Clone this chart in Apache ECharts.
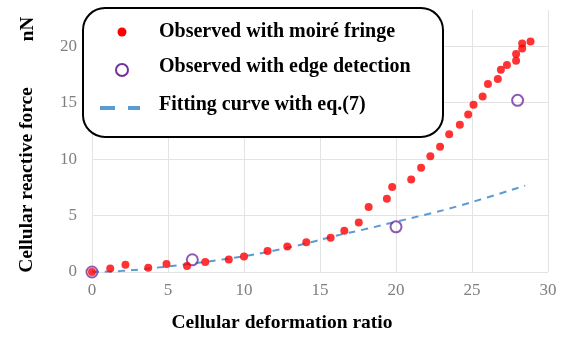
<!doctype html>
<html>
<head>
<meta charset="utf-8">
<script src="https://cdn.jsdelivr.net/npm/echarts@6/dist/echarts.min.js"></script>
<style>html,body{margin:0;padding:0;background:#fff}#main{width:565px;height:338px}</style>
</head>
<body>
<div id="main"></div>
<script>
// moiré fringe observations [ratio, force nN]
var moireX = [0, 1.2, 2.2, 3.7, 4.9, 6.25, 7.45, 9.0, 10.0, 11.55, 12.85, 14.1, 15.7, 16.6, 17.55, 18.2, 19.4, 19.75,
    21.0, 21.65, 22.26, 22.9, 23.5, 24.2, 24.75, 25.1, 25.7, 26.05, 26.7, 26.9, 27.3, 27.9, 27.9, 28.3, 28.3, 28.85];
var moireY = [0, 0.3, 0.65, 0.38, 0.7, 0.53, 0.88, 1.11, 1.37, 1.87, 2.25, 2.63, 3.04, 3.66, 4.39, 5.76, 6.49, 7.52,
    8.19, 9.24, 10.26, 11.08, 12.19, 13.04, 13.95, 14.82, 15.55, 16.64, 17.08, 17.9, 18.33, 18.71, 19.3, 19.8, 20.24, 20.4];
// edge detection observations
var edgeX = [0, 6.6, 20.0, 28.0];
var edgeY = [0, 1.08, 4.0, 15.2];
// fitting curve
var fitX = [0, 2, 4, 6, 8, 10, 12, 14, 16, 18, 20, 22, 24, 26, 28.5];
var fitY = [0, 0.1, 0.35, 0.65, 1.0, 1.4, 1.9, 2.5, 3.2, 3.8, 4.45, 5.1, 5.8, 6.6, 7.65];

var legendNames = ['Observed with moiré fringe', 'Observed with edge detection', 'Fitting curve with eq.(7)'];
var xTicks = [0, 5, 10, 15, 20, 25, 30];

function pairs(xs, ys) {
    return xs.map(function (x, i) { return [x, ys[i]]; });
}

var serif = '"Liberation Serif", "Times New Roman", serif';
var chart = echarts.init(document.getElementById('main'));

chart.setOption({
    animation: false,
    grid: { left: 92, right: 17, top: 10, bottom: 64 },
    xAxis: {
        type: 'value', min: xTicks[0], max: xTicks[xTicks.length - 1], interval: 5,
        axisLine: { show: false }, axisTick: { show: false },
        axisLabel: { color: '#7f7f7f', fontFamily: serif, fontSize: 17, margin: 10 },
        splitLine: { lineStyle: { color: '#e3e3e3', width: 1 } },
        name: 'Cellular deformation ratio', nameLocation: 'middle', nameGap: 41,
        nameTextStyle: { color: '#000', fontFamily: serif, fontWeight: 'bold', fontSize: 19.5,
                         padding: [0, 76, 0, 0] }
    },
    yAxis: {
        type: 'value', min: 0, max: 23.2, interval: 5,
        axisLine: { show: false }, axisTick: { show: false },
        axisLabel: { color: '#7f7f7f', fontFamily: serif, fontSize: 17, margin: 15, showMaxLabel: false },
        splitLine: { showMaxLine: false, lineStyle: { color: '#e3e3e3', width: 1 } }
    },
    series: [{
        name: legendNames[2], type: 'line', data: pairs(fitX, fitY), showSymbol: false, symbol: 'none',
        smooth: true, clip: false,
        lineStyle: { color: '#5b9bd5', width: 2, type: [7, 6] }, z: 1
    }, {
        name: legendNames[1], type: 'scatter', data: pairs(edgeX, edgeY), symbol: 'circle', symbolSize: 11,
        clip: false,
        itemStyle: { color: 'rgba(255,255,255,0)', borderColor: '#7030a0', borderWidth: 2 }, z: 2
    }, {
        name: legendNames[0], type: 'scatter', data: pairs(moireX, moireY), symbol: 'circle', symbolSize: 8,
        clip: false,
        itemStyle: { color: '#ff0000' }, z: 3
    }],
    graphic: [
        { type: 'text', rotation: Math.PI / 2, x: 27, y: 180,
          style: { text: 'Cellular reactive force', fill: '#000', font: 'bold 19.5px ' + serif,
                   textAlign: 'center', textVerticalAlign: 'middle' } },
        { type: 'text', rotation: Math.PI / 2, x: 28, y: 29,
          style: { text: 'nN', fill: '#000', font: 'bold 19px ' + serif,
                   textAlign: 'center', textVerticalAlign: 'middle' } },
        // legend box
        { type: 'rect', shape: { x: 83, y: 8, width: 360, height: 129, r: 22 }, z: 10,
          style: { fill: '#fff', stroke: '#000', lineWidth: 2 } },
        { type: 'circle', shape: { cx: 122, cy: 32, r: 4.5 }, z: 11, style: { fill: '#ff0000' } },
        { type: 'circle', shape: { cx: 122, cy: 70, r: 6 }, z: 11,
          style: { fill: '#fff', stroke: '#7030a0', lineWidth: 2 } },
        { type: 'line', shape: { x1: 100, y1: 108, x2: 140, y2: 108 }, z: 11,
          style: { stroke: '#5b9bd5', lineWidth: 4, lineDash: [15, 13] } },
        { type: 'text', x: 159, y: 32, z: 11,
          style: { text: legendNames[0], fill: '#000', font: 'bold 20px ' + serif, textVerticalAlign: 'middle' } },
        { type: 'text', x: 159, y: 67, z: 11,
          style: { text: legendNames[1], fill: '#000', font: 'bold 20px ' + serif, textVerticalAlign: 'middle' } },
        { type: 'text', x: 159, y: 105, z: 11,
          style: { text: legendNames[2], fill: '#000', font: 'bold 20px ' + serif, textVerticalAlign: 'middle' } }
    ]
});
</script>
</body>
</html>
